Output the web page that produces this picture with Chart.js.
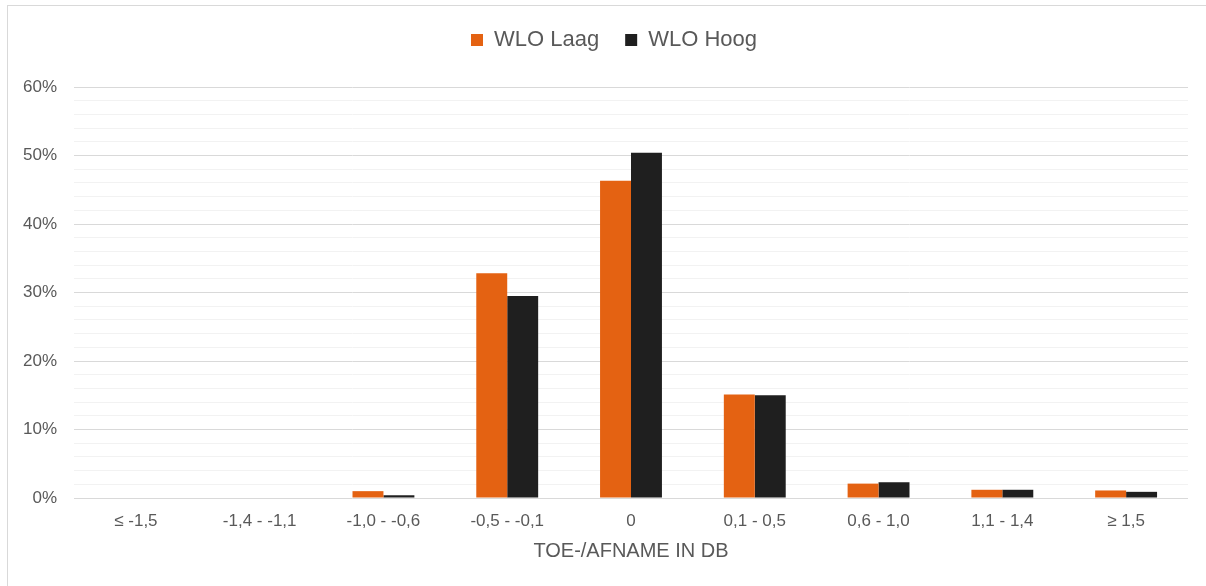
<!DOCTYPE html>
<html>
<head>
<meta charset="utf-8">
<script src="https://cdn.jsdelivr.net/npm/chart.js@4/dist/chart.umd.min.js"></script>
<style>
  html, body { margin: 0; padding: 0; background: #fff; overflow: hidden; }
  #wrap { position: relative; width: 1206px; height: 586px; overflow: hidden; }
  #frame { position: absolute; left: 7px; top: 5px; width: 1220px; height: 620px;
           border: 1px solid #d9d9d9; box-sizing: border-box; }
  #c { position: absolute; left: 0; top: 0; }
</style>
</head>
<body>
<div id="wrap">
  <div id="frame"></div>
  <canvas id="c" width="1206" height="586"></canvas>
</div>
<script>
// Klassen van de toe-/afname in dB
const categories = ['≤ -1,5', '-1,4 - -1,1', '-1,0 - -0,6', '-0,5 - -0,1', '0',
                    '0,1 - 0,5', '0,6 - 1,0', '1,1 - 1,4', '≥ 1,5'];
// Aandeel per klasse (%)
const wloLaag = [0, 0, 1.0, 32.8, 46.3, 15.1, 2.1, 1.2, 1.1];
const wloHoog = [0, 0, 0.4, 29.5, 50.4, 15.0, 2.3, 1.2, 0.9];
// Y-as
const yMin = 0, yMax = 60, yMinorStep = 2, yMajorStep = 10;

const FONT = '"Liberation Sans", Arial, sans-serif';
const TEXT = '#595959';

// Fixed legend band height, and the legend centred over the plot area
const legendBand = {
  id: 'legendBand',
  beforeInit(chart) {
    const lg = chart.legend;
    if (!lg) return;
    const fit = lg.fit;
    lg.fit = function () { fit.call(this); this.height = 84; };
  },
  afterLayout(chart) {
    const lg = chart.legend;
    if (!lg) return;
    lg.left += 20;
    lg.right += 20;
  }
};

new Chart(document.getElementById('c'), {
  type: 'bar',
  data: {
    labels: categories,
    datasets: [
      { label: 'WLO Laag', data: wloLaag, backgroundColor: '#e46212' },
      { label: 'WLO Hoog', data: wloHoog, backgroundColor: '#1f1f1f' }
    ]
  },
  options: {
    responsive: false,
    animation: false,
    devicePixelRatio: 1,
    layout: { padding: { left: 0, right: 18, top: 3, bottom: 0 } },
    datasets: { bar: { categoryPercentage: 0.5, barPercentage: 1.0 } },
    plugins: {
      tooltip: { enabled: false },
      legend: {
        position: 'top',
        align: 'center',
        labels: {
          boxWidth: 12, boxHeight: 12, padding: 26,
          color: TEXT, font: { family: FONT, size: 22 }
        }
      }
    },
    scales: {
      x: {
        grid: { display: false },
        border: { display: false },
        ticks: { color: TEXT, font: { family: FONT, size: 17 }, padding: 5,
                 autoSkip: false, maxRotation: 0 },
        title: { display: true, text: 'TOE-/AFNAME IN DB', color: TEXT,
                 font: { family: FONT, size: 20 }, padding: { top: 6, bottom: 23 } },
        afterFit(s) { s.height = 88; }
      },
      y: {
        min: yMin, max: yMax,
        border: { display: false },
        grid: {
          drawTicks: false,
          lineWidth: 1,
          color: ctx => (ctx.tick && ctx.tick.value % yMajorStep === 0) ? '#d9d9d9' : '#f2f2f2'
        },
        ticks: {
          stepSize: yMinorStep, autoSkip: false, padding: 17,
          color: TEXT, font: { family: FONT, size: 17 },
          callback: v => (v % yMajorStep === 0) ? v + '%' : ''
        },
        afterFit(s) { s.width = 74; }
      }
    }
  },
  plugins: [legendBand]
});
</script>
</body>
</html>
